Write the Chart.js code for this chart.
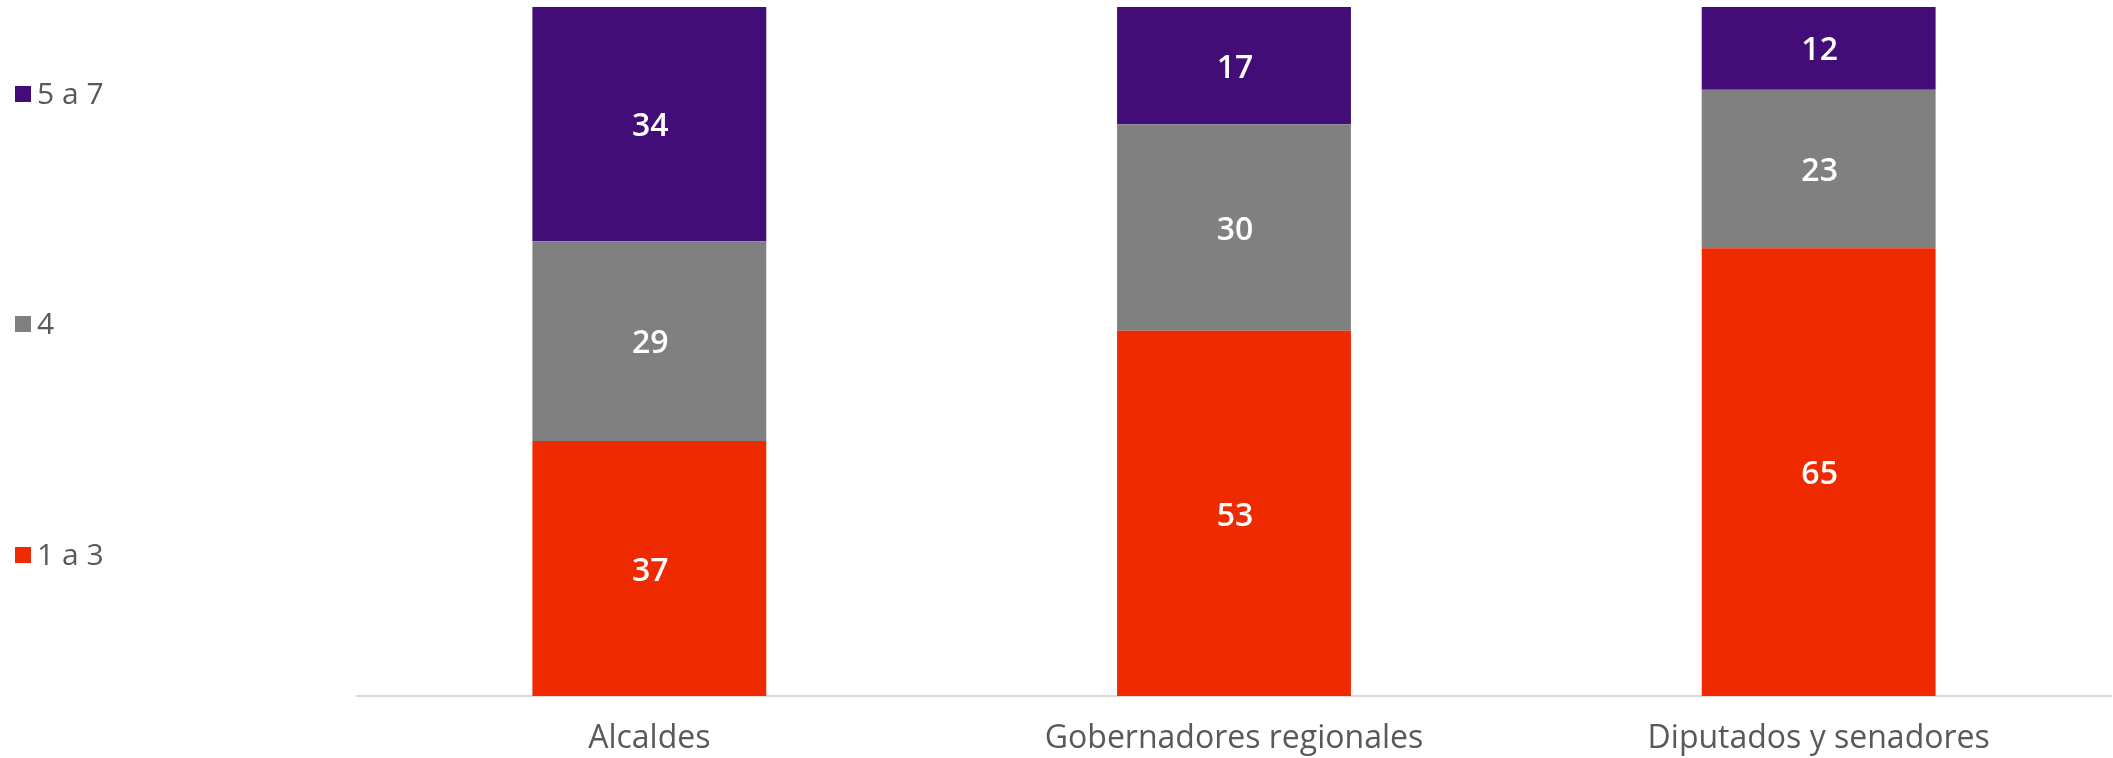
<!DOCTYPE html>
<html>
<head>
<meta charset="utf-8">
<script src="https://cdn.jsdelivr.net/npm/chart.js@4.4.1/dist/chart.umd.min.js"></script>
<style>
  html, body { margin: 0; padding: 0; background: #ffffff; }
  #wrap { position: relative; width: 2113px; height: 758px; }
</style>
</head>
<body>
<div id="wrap"><canvas id="c" width="2113" height="758"></canvas></div>
<script>
const categories = ["Alcaldes", "Gobernadores regionales", "Diputados y senadores"];
const seriesLabels = ["1 a 3", "4", "5 a 7"];
const low = [37, 53, 65];
const mid = [29, 30, 23];
const high = [34, 17, 12];
const seriesColors = ["#EF2A00", "#808080", "#420D77"];

const FONT = "'Open Sans', 'Noto Sans', sans-serif";

const valueLabels = {
  id: 'valueLabels',
  afterDatasetsDraw(chart) {
    const ctx = chart.ctx;
    ctx.save();
    ctx.fillStyle = '#ffffff';
    ctx.font = `600 32px ${FONT}`;
    ctx.textAlign = 'center';
    ctx.textBaseline = 'middle';
    chart.data.datasets.forEach((ds, di) => {
      const meta = chart.getDatasetMeta(di);
      meta.data.forEach((bar, i) => {
        const v = ds.data[i];
        const yMid = (bar.y + bar.base) / 2;
        ctx.fillText(String(v), bar.x + 1, yMid + 3);
      });
    });
    ctx.restore();
  }
};

const sideLegend = {
  id: 'sideLegend',
  afterDraw(chart) {
    const ctx = chart.ctx;
    const ds = chart.data.datasets;
    const ys = [555, 324, 94];
    ctx.save();
    ctx.font = `400 30px ${FONT}`;
    ctx.textAlign = 'left';
    ctx.textBaseline = 'middle';
    ds.forEach((d, i) => {
      const y = ys[i];
      ctx.fillStyle = d.backgroundColor;
      ctx.fillRect(15, y - 8, 16, 16);
      ctx.fillStyle = '#595959';
      ctx.fillText(d.label, 37, y + 1);
    });
    ctx.restore();
  }
};

new Chart(document.getElementById('c'), {
  type: 'bar',
  data: {
    labels: categories,
    datasets: [
      { label: seriesLabels[0], data: low, backgroundColor: seriesColors[0] },
      { label: seriesLabels[1], data: mid, backgroundColor: seriesColors[1] },
      { label: seriesLabels[2], data: high, backgroundColor: seriesColors[2] }
    ]
  },
  options: {
    responsive: false,
    animation: false,
    devicePixelRatio: 1,
    layout: { padding: { left: 357, right: 2, top: 7, bottom: 0 } },
    datasets: { bar: { barPercentage: 0.4, categoryPercentage: 1.0, borderWidth: 0 } },
    plugins: { legend: { display: false }, tooltip: { enabled: false } },
    scales: {
      x: {
        stacked: true,
        grid: { display: false, drawTicks: false },
        border: { display: true, color: '#D9D9D9', width: 2 },
        ticks: { color: '#595959', font: { family: FONT, size: 32 }, padding: 24 },
        afterFit(scale) { scale.height = 62; }
      },
      y: {
        stacked: true,
        display: false,
        min: 0,
        max: 100
      }
    }
  },
  plugins: [valueLabels, sideLegend]
});
</script>
</body>
</html>
